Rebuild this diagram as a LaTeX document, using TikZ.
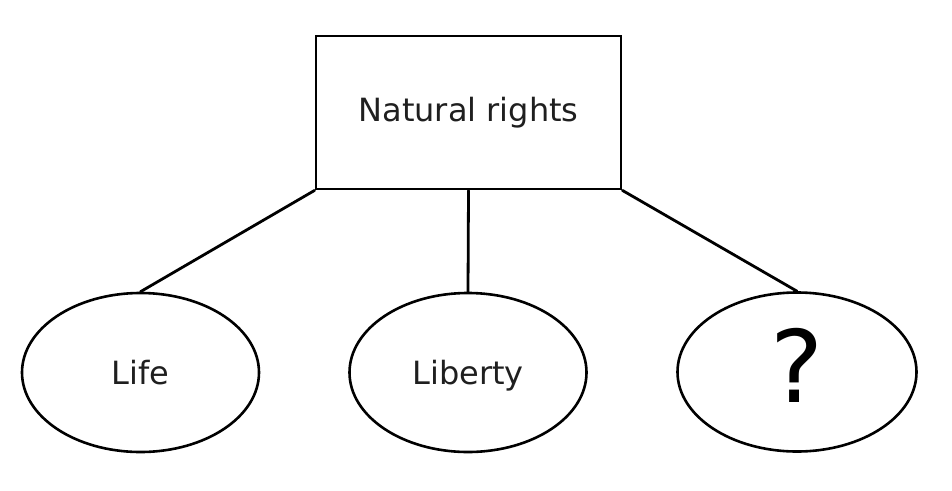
\documentclass[tikz,border=0pt]{standalone}
\usepackage{fontspec}
\setmainfont{DejaVu Sans}
\usetikzlibrary{shapes.geometric}
\begin{document}
\begin{tikzpicture}[x=1pt,y=-1pt,
  every node/.style={font=\fontsize{32}{38}\selectfont, text=black!88},
  box/.style={draw, line width=2.8pt, rectangle, minimum width=305pt, minimum height=153pt, inner sep=0pt},
  oval/.style={draw, line width=2.6pt, ellipse, minimum width=237pt, minimum height=159pt, inner sep=0pt, text depth=0pt},
  link/.style={line width=2.8pt, line cap=round}]
\useasboundingbox[fill=white] (0,0) rectangle (952,490);
\node[box] (root) at (468.5,112.5) {Natural rights};
\node[oval] (life) at (140.5,372.5) {Life};
\node[oval] (liberty) at (468,372.5) {Liberty};
\node[oval, minimum width=239pt, text=black] (q) at (797,372) {\raisebox{6pt}[73pt][0pt]{\fontsize{100}{110}\selectfont ?}};
\draw[link] (root.south west) -- (life.north);
\draw[link] (root.south) -- (liberty.north);
\draw[link] (root.south east) -- (q.north);
\end{tikzpicture}
\end{document}
